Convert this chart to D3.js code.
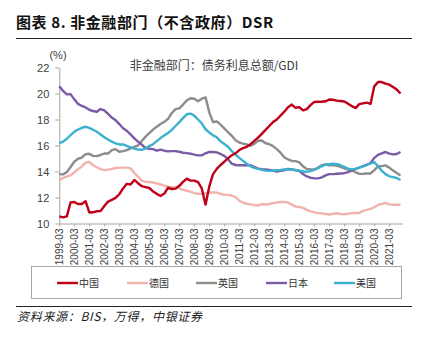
<!DOCTYPE html>
<html>
<head>
<meta charset="utf-8">
<script src="https://cdn.jsdelivr.net/npm/d3@7/dist/d3.min.js"></script>
<style>
  html, body { margin: 0; padding: 0; background: #fff; }
  svg { display: block; }
  .tick text { font-family: "Liberation Sans", Arial, sans-serif; fill: #404040; }
</style>
</head>
<body>
<svg id="chart" width="426" height="337"></svg>
<script>
// Quarterly periods 1999-03 … 2021-12
const periods = [];
for (let y = 1999; y <= 2021; y++) {
  for (const m of ["03", "06", "09", "12"]) periods.push(`${y}-${m}`);
}

// Non-financial private sector debt service ratio (%), quarterly
const china = [
  10.55, 10.47, 10.55, 11.62, 11.65, 11.5, 11.5, 11.72, 10.85, 10.86, 10.94, 10.95,
  11.35, 11.68, 11.82, 11.97, 12.25, 12.7, 13.05, 13.0, 13.35, 13.1, 12.87, 12.8,
  12.73, 12.47, 12.28, 12.12, 12.3, 12.75, 12.65, 12.68, 12.9, 13.2, 13.45, 13.3,
  13.3, 13.18, 12.7, 11.45, 12.85, 13.8, 14.2, 14.5, 14.75, 15.03, 15.25, 15.4,
  15.65, 15.8, 15.9, 16.1, 16.35, 16.6, 16.9, 17.2, 17.5, 17.8, 18.0, 18.3,
  18.6, 18.95, 19.15, 18.9, 18.95, 18.7, 18.8, 19.1, 19.35, 19.37, 19.37, 19.4,
  19.54, 19.52, 19.45, 19.42, 19.38, 19.22, 19.03, 18.88, 19.18, 19.24, 19.3, 19.2,
  20.55, 20.88, 20.88, 20.76, 20.68, 20.5, 20.3, 20.0
];
const germany = [
  13.34, 13.5, 13.63, 13.7, 13.93, 14.18, 14.38, 14.68, 14.73, 14.48, 14.33, 14.18,
  14.1, 14.14, 14.2, 14.27, 14.3, 14.3, 14.3, 14.24, 13.9, 13.6, 13.3, 13.2,
  13.19, 13.15, 13.08, 13.0, 12.92, 12.84, 12.81, 12.79, 12.7, 12.59, 12.52, 12.45,
  12.34, 12.28, 12.28, 12.33, 12.38, 12.38, 12.38, 12.28, 12.2, 12.2, 12.15, 12.03,
  11.75, 11.6, 11.52, 11.47, 11.42, 11.38, 11.5, 11.46, 11.5, 11.57, 11.62, 11.65,
  11.65, 11.62, 11.45, 11.3, 11.27, 11.2, 11.05, 10.93, 10.86, 10.81, 10.78, 10.73,
  10.69, 10.75, 10.79, 10.73, 10.7, 10.75, 10.8, 10.81, 10.81, 10.97, 11.05, 11.12,
  11.25, 11.43, 11.5, 11.58, 11.47, 11.44, 11.44, 11.44
];
const uk = [
  13.8, 13.78, 13.95, 14.35, 14.75, 14.98, 15.07, 15.33, 15.37, 15.2, 15.18, 15.27,
  15.38, 15.38, 15.65, 15.72, 15.52, 15.57, 15.65, 15.78, 15.9, 16.0, 16.35, 16.68,
  16.95, 17.22, 17.45, 17.65, 17.82, 18.05, 18.5, 18.8, 18.86, 19.15, 19.47, 19.63,
  19.6, 19.4, 19.6, 19.7, 18.55, 17.8, 17.85, 17.6, 17.32, 17.02, 16.75, 16.4,
  16.23, 16.15, 16.08, 15.98, 16.12, 16.36, 16.38, 16.17, 16.1, 15.95, 15.72, 15.45,
  15.1, 14.93, 14.81, 14.8, 14.7, 14.4, 14.2, 14.15, 14.15, 14.3, 14.48, 14.55,
  14.48, 14.48, 14.45, 14.35, 14.25, 14.15, 14.1, 13.95, 13.82, 13.83, 13.85, 13.85,
  14.1, 14.4, 14.41, 14.47, 14.3, 14.08, 13.88, 13.7
];
const japan = [
  20.56, 20.2, 19.93, 19.95, 19.55, 19.2, 19.04, 18.93, 18.75, 18.65, 18.6, 18.8,
  18.7, 18.43, 18.15, 17.95, 17.65, 17.33, 17.13, 16.85, 16.55, 16.3, 16.07, 15.8,
  15.75, 15.72, 15.6, 15.68, 15.6, 15.55, 15.57, 15.57, 15.52, 15.44, 15.41, 15.37,
  15.3, 15.24, 15.24, 15.4, 15.5, 15.5, 15.47, 15.35, 15.2, 14.95, 14.6, 14.5,
  14.48, 14.48, 14.48, 14.48, 14.35, 14.22, 14.18, 14.15, 14.12, 14.07, 13.99, 14.05,
  14.1, 14.2, 14.15, 14.1, 14.05, 13.8, 13.62, 13.52, 13.47, 13.47, 13.55, 13.7,
  13.8, 13.8, 13.83, 13.85, 13.87, 13.95, 14.07, 14.2, 14.3, 14.42, 14.52, 14.65,
  15.05, 15.28, 15.4, 15.5, 15.38, 15.32, 15.35, 15.5
];
const usa = [
  16.18, 16.3, 16.52, 16.8, 17.05, 17.23, 17.36, 17.44, 17.36, 17.21, 17.06, 16.85,
  16.63, 16.46, 16.3, 16.17, 16.08, 16.08, 15.97, 15.86, 15.77, 15.68, 15.67, 15.78,
  15.95, 16.1, 16.34, 16.57, 16.78, 16.96, 17.2, 17.5, 17.8, 18.1, 18.4, 18.45,
  18.3, 18.0, 17.7, 17.25, 17.0, 16.78, 16.63, 16.32, 16.12, 15.9, 15.57, 15.3,
  15.05, 14.82, 14.6, 14.4, 14.28, 14.2, 14.13, 14.07, 14.05, 14.07, 14.1, 14.12,
  14.15, 14.15, 14.15, 14.12, 14.07, 14.0, 13.98, 14.03, 14.12, 14.25, 14.4, 14.52,
  14.57, 14.6, 14.57, 14.48, 14.35, 14.22, 14.16, 14.2, 14.3, 14.4, 14.5, 14.62,
  14.72, 14.4, 14.05, 13.8, 13.63, 13.57, 13.5, 13.35
];

const yTicks = [10, 12, 14, 16, 18, 20, 22];
const xTickLabels = periods.filter(p => p.endsWith("-03"));

const seriesNames = ["中国", "德国", "英国", "日本", "美国"];
const seriesValues = [china, germany, uk, japan, usa];
const seriesColors = ["#C00018", "#F2B3AE", "#8C8C8C", "#7B5AA6", "#3CB0CF"];
// draw order: pink and grey underneath, red on top
const drawOrder = [1, 2, 3, 4, 0];

const svg = d3.select("#chart");
const cjk = '"Noto Sans CJK SC", "Noto Sans", sans-serif';

// Title and rules
svg.append("text")
  .attr("x", 16).attr("y", 28)
  .attr("font-family", cjk).attr("font-weight", "bold").attr("font-size", 15)
  .attr("letter-spacing", 0.6)
  .attr("fill", "#111")
  .text("图表 8. 非金融部门（不含政府）DSR");
svg.append("line").attr("x1", 16).attr("x2", 412).attr("y1", 38.5).attr("y2", 38.5)
  .attr("stroke", "#222").attr("stroke-width", 1);

// Scales
const x = d3.scaleLinear().domain([0, 91.5]).range([59.3, 402.4]);
const y = d3.scaleLinear().domain([10, 22]).range([223.5, 67.5]);

// Axes
const yAxis = d3.axisLeft(y).tickValues(yTicks).tickSize(4).tickPadding(6).tickSizeOuter(0);
const gy = svg.append("g").attr("transform", `translate(${x(0)},0)`).call(yAxis);
gy.selectAll("text").attr("font-size", 11);
gy.selectAll("line, path").attr("stroke", "#A6A6A6");

const xAxis = d3.axisBottom(x)
  .tickValues(xTickLabels.map(l => periods.indexOf(l)))
  .tickFormat(i => periods[i])
  .tickSize(3).tickSizeOuter(0);
const gx = svg.append("g").attr("transform", `translate(0,${y(10)})`).call(xAxis);
gx.selectAll("line, path").attr("stroke", "#A6A6A6");
gx.selectAll("text")
  .attr("font-size", 10)
  .attr("text-anchor", "end")
  .attr("transform", "rotate(-90)")
  .attr("x", -5).attr("y", 0).attr("dy", "0.35em");

// Unit label and in-plot heading
svg.append("text").attr("x", 58).attr("y", 59).attr("text-anchor", "middle")
  .attr("font-family", '"Liberation Sans", Arial, sans-serif').attr("font-size", 11)
  .attr("fill", "#404040").text("(%)");
svg.append("text").attr("x", 214).attr("y", 70).attr("text-anchor", "middle")
  .attr("font-family", cjk).attr("font-size", 12).attr("fill", "#404040")
  .text("非金融部门：债务利息总额/GDI");

// Series lines
const line = d3.line().x((d, i) => x(i)).y(d => y(d)).curve(d3.curveLinear);
drawOrder.forEach(k => {
  svg.append("path")
    .datum(seriesValues[k])
    .attr("fill", "none")
    .attr("stroke", seriesColors[k])
    .attr("stroke-width", 2.4)
    .attr("stroke-linejoin", "round")
    .attr("d", line);
});

// Legend
svg.append("rect").attr("x", 31.5).attr("y", 266.5).attr("width", 370).attr("height", 32)
  .attr("fill", "none").attr("stroke", "#A6A6A6").attr("stroke-width", 1);
const legendX = [57, 127, 196, 266, 334];
seriesNames.forEach((name, k) => {
  const g = svg.append("g").attr("transform", `translate(${legendX[k]},283)`);
  g.append("line").attr("x1", 0).attr("x2", 21).attr("y1", 0).attr("y2", 0)
    .attr("stroke", seriesColors[k]).attr("stroke-width", 2.4);
  g.append("text").attr("x", 22).attr("y", 0).attr("dy", "0.35em")
    .attr("font-family", cjk).attr("font-size", 10).attr("fill", "#333")
    .text(name);
});

// Source note
svg.append("line").attr("x1", 16).attr("x2", 412).attr("y1", 306.5).attr("y2", 306.5)
  .attr("stroke", "#222").attr("stroke-width", 1);
svg.append("text").attr("x", 17).attr("y", 321)
  .attr("font-family", cjk).attr("font-style", "italic").attr("font-size", 12)
  .attr("letter-spacing", 0.7)
  .attr("fill", "#222")
  .text("资料来源：BIS，万得，中银证券");
</script>
</body>
</html>
